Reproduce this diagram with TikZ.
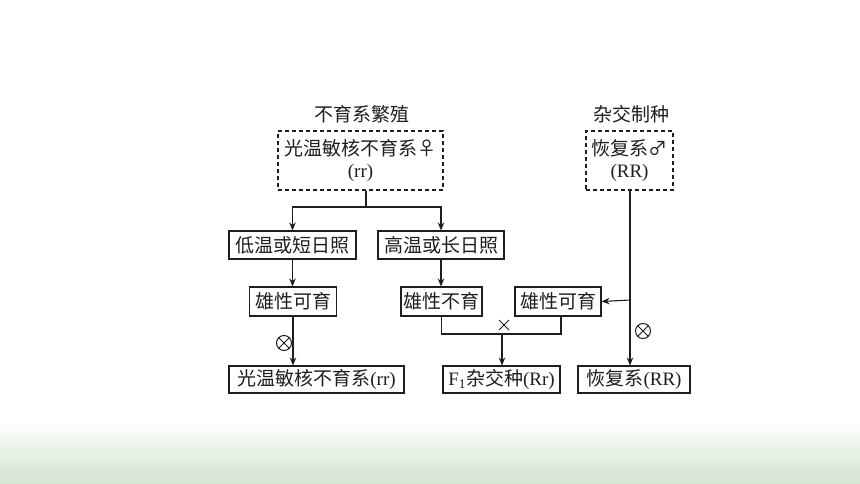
\documentclass[tikz,border=0pt]{standalone}
\usepackage{fontspec}
\setmainfont{Liberation Serif}
\newfontfamily\cjk{Noto Sans CJK SC}
\usetikzlibrary{arrows.meta,calc,shapes.misc}
\definecolor{ink}{HTML}{1E1E1E}
\definecolor{bandgreen}{HTML}{D2E4CE}
\begin{document}
\begin{tikzpicture}[x=1pt,y=1pt,
  txt/.style={text=ink,font=\fontsize{19}{22}\selectfont,inner sep=0pt},
  otimesmark/.style={circle,draw=ink,line width=1pt,minimum size=15pt,inner sep=0pt,
    path picture={\draw[ink,line width=1pt]
      ($(path picture bounding box.center)+(-5.3,-5.3)$) -- ($(path picture bounding box.center)+(5.3,5.3)$)
      ($(path picture bounding box.center)+(-5.3,5.3)$) -- ($(path picture bounding box.center)+(5.3,-5.3)$);}},
  timesmark/.style={cross out,draw=ink,line width=1pt,minimum size=9pt,inner sep=0pt},
  sbox/.style={txt,draw=ink,line width=1.1pt,minimum height=28pt},
  dbox/.style={txt,draw=ink,line width=1.1pt,dash pattern=on 4pt off 3pt,align=center},
  conn/.style={draw=ink,line width=1.1pt},
  arr/.style={conn,-{Stealth[length=8pt,width=6.5pt]}}]
\useasboundingbox (0,0) rectangle (860,-484);
\fill[white] (0,0) rectangle (860,-484);
\shade[top color=white,bottom color=bandgreen] (0,-420) rectangle (860,-484);

% titles
\node[txt] (t1) at (362,-114) {\cjk 不育系繁殖};
\node[txt] (t2) at (631,-114) {\cjk 杂交制种};

% dashed parent boxes
\node[dbox,minimum width=165pt,minimum height=59pt] (d1) at (360.5,-160.5)
  {{\cjk 光温敏核不育系♀}\\(rr)};
\node[dbox,minimum width=87pt,minimum height=59pt] (d2) at (629.5,-160.5)
  {{\cjk 恢复系♂}\\(RR)};

% solid boxes
\node[sbox,minimum width=127pt] (b1) at (292.5,-245) {\cjk 低温或短日照};
\node[sbox,minimum width=126pt] (b2) at (441,-245) {\cjk 高温或长日照};
\node[sbox,minimum width=87pt,minimum height=29pt] (b3) at (293,-301.5) {\cjk 雄性可育};
\node[sbox,minimum width=81pt,minimum height=29pt] (b4) at (441.5,-301.5) {\cjk 雄性不育};
\node[sbox,minimum width=86pt,minimum height=29pt] (b5) at (558,-301.5) {\cjk 雄性可育};
\node[sbox,minimum width=175pt,minimum height=27pt] (b6) at (316.5,-379.5) {{\cjk 光温敏核不育系}(rr)};
\node[sbox,minimum width=117pt,minimum height=27pt] (b7) at (501.5,-379.5) {F\textsubscript{1}{\cjk 杂交种}(Rr)};
\node[sbox,minimum width=112pt,minimum height=27pt] (b8) at (634,-379.5) {{\cjk 恢复系}(RR)};

% junctions
\coordinate (j1) at (366,-207);
\coordinate (j2) at (502,-334);
\coordinate (j3) at (630,-300);

% connectors
\draw[conn] (j1 |- d1.south) -- (j1);
\draw[arr] (j1) -| (b1.north);
\draw[arr] (j1) -| (b2.north);
\draw[arr] (b1.south) -- (b1.south |- b3.north);
\draw[arr] (b2.south) -- (b2.south |- b4.north);
\draw[arr] (b3.south) -- (b3.south |- b6.north);
\draw[conn] (b4.south) |- (j2) -| ($(b5.south)+(3,0)$);
\draw[arr] (j2) -- (j2 |- b7.north);
\draw[arr] (j3 |- d2.south) -- (j3 |- b8.north);
\draw[arr] (j3) -- (b5.east);

% labels
\node[otimesmark] (s1) at (284,-343) {};
\node[timesmark] (x1) at (504,-325) {};
\node[otimesmark] (s2) at (643,-331) {};
\end{tikzpicture}
\end{document}
